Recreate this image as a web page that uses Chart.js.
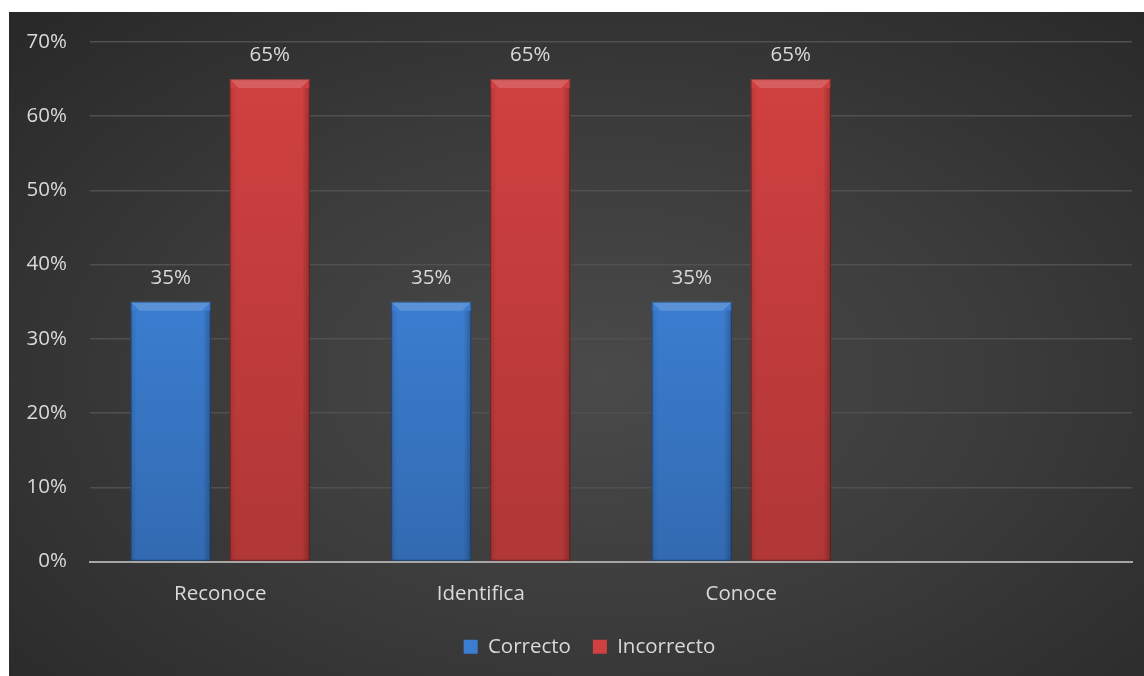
<!DOCTYPE html>
<html>
<head>
<meta charset="utf-8">
<script src="https://cdn.jsdelivr.net/npm/chart.js@4/dist/chart.umd.min.js"></script>
<style>
    html, body { margin: 0; padding: 0; background: #fff; }
    #wrap {
        position: absolute; left: 9px; top: 12px; width: 1135px; height: 664px;
        background: radial-gradient(ellipse 75% 80% at 52% 55%, #4a4a4a 0%, #3c3c3c 45%, #272727 100%);
    }
</style>
</head>
<body>
<div id="wrap"><canvas id="chart" width="1135" height="664"></canvas></div>
<script>
const categories = ['Reconoce', 'Identifica', 'Conoce', ''];
const correcto = [35, 35, 35, null];
const incorrecto = [65, 65, 65, null];
const yTicks = [0, 10, 20, 30, 40, 50, 60, 70];

const textColor = '#d9d9d9';
const fontFamily = '"Open Sans", "Noto Sans", sans-serif';
const fontSize = 20.5;

// top bevel + soft side shading, like the Excel preset
const bevelPlugin = {
    id: 'bevel',
    afterDatasetsDraw(chart) {
        const ctx = chart.ctx;
        chart.data.datasets.forEach((ds, i) => {
            chart.getDatasetMeta(i).data.forEach((bar, j) => {
                if (ds.data[j] == null) return;
                const w = bar.width, x0 = bar.x - w / 2, x1 = bar.x + w / 2;
                const top = bar.y, bottom = bar.base, b = 9;
                ctx.save();
                ctx.fillStyle = 'rgba(255,255,255,0.16)';
                ctx.beginPath();
                ctx.moveTo(x0, top); ctx.lineTo(x1, top);
                ctx.lineTo(x1 - b, top + b); ctx.lineTo(x0 + b, top + b);
                ctx.closePath(); ctx.fill();
                const g = ctx.createLinearGradient(x0, 0, x1, 0);
                g.addColorStop(0, 'rgba(0,0,0,0.12)');
                g.addColorStop(0.08, 'rgba(0,0,0,0)');
                g.addColorStop(0.9, 'rgba(0,0,0,0)');
                g.addColorStop(1, 'rgba(0,0,0,0.25)');
                ctx.fillStyle = g;
                ctx.fillRect(x0, top + b, w, bottom - top - b);
                const v = ctx.createLinearGradient(0, top, 0, bottom);
                v.addColorStop(0, 'rgba(0,0,0,0)');
                v.addColorStop(1, 'rgba(0,0,0,0.15)');
                ctx.fillStyle = v;
                ctx.fillRect(x0, top + b, w, bottom - top - b);
                ctx.strokeStyle = 'rgba(0,0,0,0.35)';
                ctx.lineWidth = 1;
                ctx.strokeRect(x0 + 0.5, top + 0.5, w - 1, bottom - top - 1);
                ctx.restore();
            });
        });
    }
};

const valueLabels = {
    id: 'valueLabels',
    afterDatasetsDraw(chart) {
        const ctx = chart.ctx;
        ctx.save();
        ctx.fillStyle = textColor;
        ctx.font = fontSize + 'px ' + fontFamily;
        ctx.textAlign = 'center';
        ctx.textBaseline = 'middle';
        chart.data.datasets.forEach((ds, i) => {
            chart.getDatasetMeta(i).data.forEach((bar, j) => {
                if (ds.data[j] == null) return;
                ctx.fillText(ds.data[j] + '%', bar.x, bar.y - 24);
            });
        });
        ctx.restore();
    }
};

// legend sits a little right of centre in the original
const legendShift = {
    id: 'legendShift',
    beforeDraw(chart) {
        chart.legend.left = 13;
        chart.legend.right = chart.width + 13;
    }
};

new Chart(document.getElementById('chart'), {
    type: 'bar',
    data: {
        labels: categories,
        datasets: [
            { label: 'Correcto', data: correcto, backgroundColor: '#3b7dd0' },
            { label: 'Incorrecto', data: incorrecto, backgroundColor: '#d04040' }
        ]
    },
    options: {
        responsive: false,
        animation: false,
        categoryPercentage: 0.76,
        barPercentage: 0.81,
        layout: { padding: { top: 30, right: 12, left: 0, bottom: 9 } },
        scales: {
            x: {
                grid: { display: false },
                border: { color: '#a6a6a6', width: 2 },
                ticks: { color: textColor, font: { size: fontSize, family: fontFamily }, padding: 12 },
                afterFit(scale) { scale.height = 53; }
            },
            y: {
                min: 0, max: 70,
                afterBuildTicks(scale) { scale.ticks = yTicks.map(v => ({ value: v })); },
                grid: { color: '#505050', lineWidth: 1.5, tickLength: 23, tickColor: 'transparent' },
                border: { display: false },
                ticks: { color: textColor, font: { size: fontSize, family: fontFamily }, padding: 0, callback: v => v + '%' },
                afterFit(scale) { scale.width = 81; }
            }
        },
        plugins: {
            legend: {
                position: 'bottom',
                labels: { color: textColor, font: { size: fontSize, family: fontFamily }, boxWidth: 14, boxHeight: 14, padding: 22 }
            },
            tooltip: { enabled: false }
        }
    },
    plugins: [bevelPlugin, valueLabels, legendShift]
});
</script>
</body>
</html>
